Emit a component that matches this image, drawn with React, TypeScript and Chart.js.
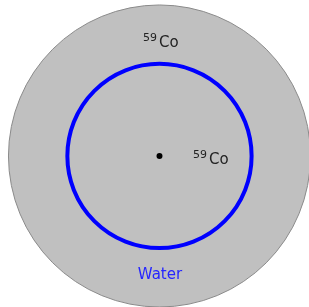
import React, { useEffect, useRef } from "react";
import { Chart, registerables } from "chart.js";

Chart.register(...registerables);

// Circles in data units (outer circle radius = 1)
const circleNames = ["Outer", "Water ring", "Centre"];
const circleX = [0, 0, 0];
const circleY = [0, 0, 0];
const circleR = [1.0, 0.61, 0.02];

// Text labels
const labelSup = ["59", "59", ""];
const labelMain = ["Co", "Co", "Water"];
const labelX = [-0.109, 0.222, 0.003];
const labelY = [0.722, -0.053, -0.815];

const xMin = -1.056;
const xMax = 0.99;
const yMin = -1.0;
const yMax = 1.033;

const FONT = "'DejaVu Sans', sans-serif";

const labelPlugin = {
  id: "labels",
  afterDatasetsDraw(chart: any) {
    const { ctx, scales } = chart;
    const xs = scales.x;
    const ys = scales.y;
    ctx.save();
    for (let i = 0; i < labelMain.length; i++) {
      const px = xs.getPixelForValue(labelX[i]);
      const py = ys.getPixelForValue(labelY[i]);
      const isWater = labelSup[i] === "";
      if (isWater) {
        ctx.font = `15px ${FONT}`;
        ctx.fillStyle = "#2525ff";
        ctx.textAlign = "center";
        ctx.textBaseline = "alphabetic";
        ctx.fillText(labelMain[i], px, py);
      } else {
        ctx.fillStyle = "#222";
        ctx.textAlign = "left";
        ctx.textBaseline = "alphabetic";
        ctx.font = `11px ${FONT}`;
        const w = ctx.measureText(labelSup[i]).width;
        ctx.fillText(labelSup[i], px, py - 6);
        ctx.font = `15px ${FONT}`;
        ctx.fillText(labelMain[i], px + w + 2, py);
      }
    }
    ctx.restore();
  },
};

export default function App() {
  const ref = useRef<HTMLCanvasElement | null>(null);
  useEffect(() => {
    document.body.style.margin = "0";
    const canvas = ref.current!;
    const radiusFor = (r: number) => (c: any) => {
      const s = c.chart.scales.x;
      if (!s) return 0;
      return Math.abs(s.getPixelForValue(r) - s.getPixelForValue(0));
    };
    const bg = ["#c0c0c0", "rgba(0,0,0,0)", "#000000"];
    const border = ["#8a8a8a", "#0000ff", "#000000"];
    const bw = [1, 4, 0];
    const drawOrder = [3, 2, 1];
    const chart = new Chart(canvas, {
      type: "scatter",
      data: {
        datasets: circleNames.map((name, i) => ({
          label: name,
          data: [{ x: circleX[i], y: circleY[i] }],
          backgroundColor: bg[i],
          borderColor: border[i],
          borderWidth: bw[i],
          order: drawOrder[i],
          pointRadius: i === 2 ? 3 : radiusFor(circleR[i]),
          pointHoverRadius: i === 2 ? 3 : radiusFor(circleR[i]),
          clip: false as any,
        })),
      },
      options: {
        animation: false,
        responsive: false,
        maintainAspectRatio: false,
        layout: { padding: 0, autoPadding: false },
        events: [],
        plugins: {
          legend: { display: false },
          tooltip: { enabled: false },
        },
        scales: {
          x: { type: "linear", min: xMin, max: xMax, display: false },
          y: { type: "linear", min: yMin, max: yMax, display: false },
        },
      },
      plugins: [labelPlugin],
    });
    return () => chart.destroy();
  }, []);
  return (
    <div style={{ position: "fixed", left: 0, top: 0, width: 309, height: 307, background: "#fff" }}>
      <canvas ref={ref} width={309} height={307} style={{ width: 309, height: 307, display: "block" }} />
    </div>
  );
}
